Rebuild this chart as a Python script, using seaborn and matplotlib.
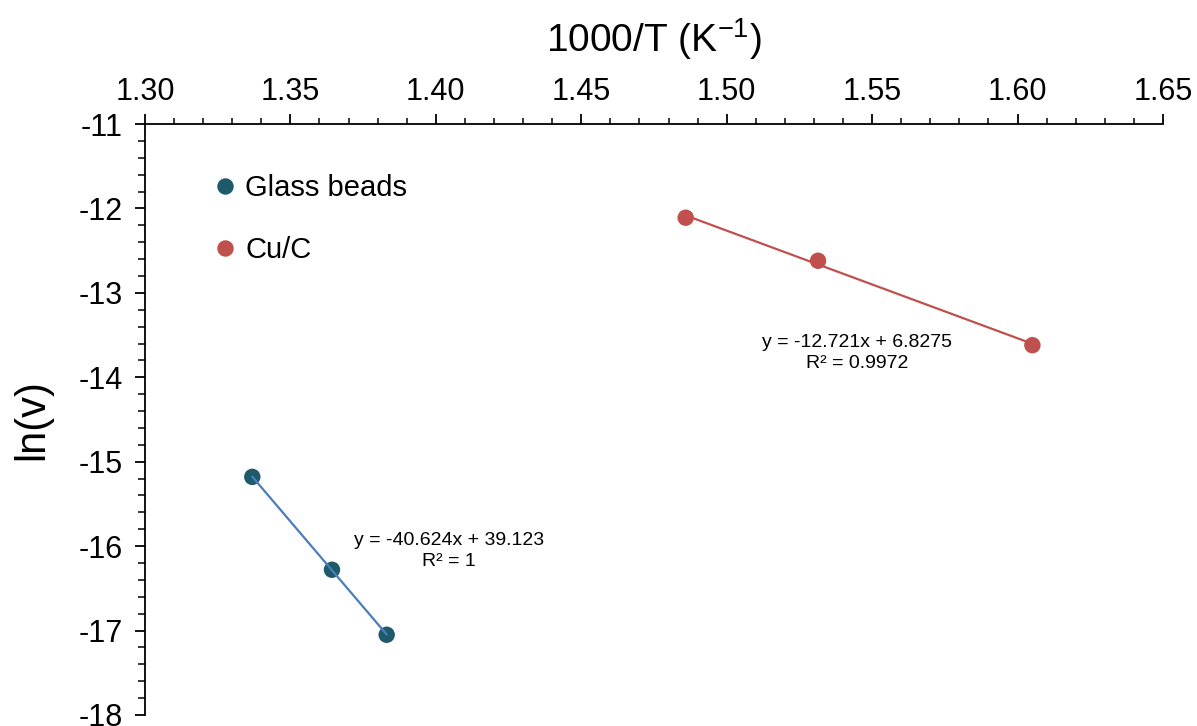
import numpy as np
import pandas as pd
import matplotlib.pyplot as plt
from matplotlib.ticker import MultipleLocator, FormatStrFormatter
import seaborn as sns

# Arrhenius data (1000/T in K^-1, ln of rate)
glass_x = [1.3369, 1.3643, 1.3831]
glass_y = [-15.18, -16.28, -17.05]
cu_x = [1.4859, 1.5314, 1.6051]
cu_y = [-12.11, -12.62, -13.62]

series_names = ["Glass beads", "Cu/C"]
marker_colors = ["#1F5A6B", "#C0504D"]
line_colors = ["#4A7EBB", "#C0504D"]
fit_labels = ["y = -40.624x + 39.123\nR² = 1", "y = -12.721x + 6.8275\nR² = 0.9972"]
label_pos = [(1.4045, -16.06), (1.5448, -13.71)]

df = pd.DataFrame({
    "x": glass_x + cu_x,
    "y": glass_y + cu_y,
    "series": [series_names[0]] * len(glass_x) + [series_names[1]] * len(cu_x),
})

sns.set_style("ticks", {"text.color": "black", "axes.labelcolor": "black",
                        "xtick.color": "black", "ytick.color": "black",
                        "axes.edgecolor": "black"})
plt.rcParams["font.family"] = ["Liberation Sans", "DejaVu Sans"]
plt.rcParams["axes.unicode_minus"] = False
plt.rcParams["mathtext.default"] = "regular"

fig, ax = plt.subplots(figsize=(11.97, 7.26), dpi=100)
fig.subplots_adjust(left=0.1211, right=0.9716, bottom=0.0152, top=0.8292)

sns.scatterplot(data=df, x="x", y="y", hue="series", palette=marker_colors,
                s=140, linewidth=0, ax=ax, zorder=2)

# linear trendlines over each series
for name, color in zip(series_names, line_colors):
    sub = df[df["series"] == name]
    sns.regplot(data=sub, x="x", y="y", scatter=False, ci=None, truncate=True,
                line_kws={"color": color, "lw": 1.6, "zorder": 3}, ax=ax)

for text, (tx, ty) in zip(fit_labels, label_pos):
    ax.text(tx, ty, text, ha="center", va="center", fontsize=14, linespacing=1.3)

ax.set_xlim(1.30, 1.65)
ax.set_ylim(-18, -11)
ax.xaxis.set_major_locator(MultipleLocator(0.05))
ax.xaxis.set_minor_locator(MultipleLocator(0.01))
ax.xaxis.set_major_formatter(FormatStrFormatter("%.2f"))
ax.yaxis.set_major_locator(MultipleLocator(1))
ax.yaxis.set_minor_locator(MultipleLocator(0.2))

ax.xaxis.tick_top()
ax.xaxis.set_label_position("top")
ax.spines["bottom"].set_visible(False)
ax.spines["right"].set_visible(False)
for sp in ("top", "left"):
    ax.spines[sp].set_linewidth(1.3)

ax.tick_params(axis="x", which="major", direction="out", length=7, width=1.3,
               labelsize=22, pad=5)
ax.tick_params(axis="x", which="minor", direction="out", length=4.5, width=1.1)
ax.tick_params(axis="y", which="major", direction="out", length=7, width=1.3,
               labelsize=22, pad=9)
ax.tick_params(axis="y", which="minor", direction="out", length=5, width=1.1)

ax.set_xlabel("1000/T (K$^{-1}$)", fontsize=28, labelpad=18)
ax.set_ylabel("ln(v)", fontsize=30, labelpad=19)

handles, labels = ax.get_legend_handles_labels()
ax.legend(handles, labels, loc="upper left", bbox_to_anchor=(0.043, 0.96),
          frameon=False, fontsize=21, labelspacing=1.17, handlelength=0.7,
          handletextpad=0.335, markerscale=1.0)

fig.savefig("out.png", dpi=100)
